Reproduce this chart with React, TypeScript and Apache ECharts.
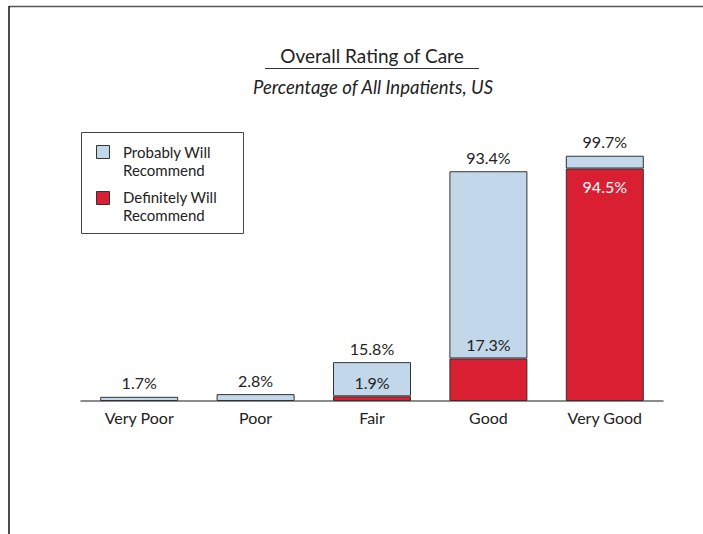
import React, { useEffect, useRef } from "react";
import * as echarts from "echarts";

const categories = ["Very Poor", "Poor", "Fair", "Good", "Very Good"];
const definitely = [0, 0, 1.9, 17.3, 94.5];
const probably = [1.7, 2.8, 13.9, 76.1, 5.2];
const totals = [1.7, 2.8, 15.8, 93.4, 99.7];
const seriesNames = ["Probably Will Recommend", "Definitely Will Recommend"];
const legendLines = [["Probably Will", "Recommend"], ["Definitely Will", "Recommend"]];
const titleText = "Overall Rating of Care";
const subtitleText = "Percentage of All Inpatients, US";

const BLUE = "#c2d8ea";
const RED = "#db1f33";
const FONT = "Lato, 'Open Sans', sans-serif";

export default function App() {
  const ref = useRef<HTMLDivElement>(null);
  useEffect(() => {
    if (!ref.current) return;
    const chart = echarts.init(ref.current, null, { renderer: "svg" });
    const redData = definitely.map((v, i) => {
      const item: any = { value: v };
      if (v === 0) {
        item.label = { show: false };
        item.itemStyle = { borderWidth: 0 };
      } else if (v > 50) {
        item.label = { show: true, position: "insideTop", distance: 10, color: "#ffffff" };
      }
      return item;
    });
    chart.setOption({
      animation: false,
      backgroundColor: "#ffffff",
      textStyle: { fontFamily: FONT },
      grid: { left: 81, width: 582, top: 155, height: 246 },
      xAxis: {
        type: "category",
        data: categories,
        axisLine: { show: true, lineStyle: { color: "#666", width: 1.5 } },
        axisTick: { show: false },
        axisLabel: { color: "#222", fontSize: 16, fontFamily: FONT, margin: 8 },
      },
      yAxis: {
        type: "value",
        min: 0,
        max: 100,
        show: false,
        splitLine: { show: false },
      },
      series: [
        {
          name: seriesNames[1],
          type: "bar",
          stack: "total",
          barWidth: 78,
          data: redData,
          itemStyle: { color: RED, borderColor: "#333", borderWidth: 1 },
          label: {
            show: true,
            position: "top",
            distance: 6,
            color: "#222",
            fontSize: 16,
            fontFamily: FONT,
            formatter: (p: any) => p.value.toFixed(1) + "%",
          },
        },
        {
          name: seriesNames[0],
          type: "bar",
          stack: "total",
          barWidth: 78,
          data: probably,
          itemStyle: { color: BLUE, borderColor: "#333", borderWidth: 1 },
          label: {
            show: true,
            position: "top",
            distance: 6,
            color: "#222",
            fontSize: 16,
            fontFamily: FONT,
            formatter: (p: any) => totals[p.dataIndex].toFixed(1) + "%",
          },
        },
      ],
      graphic: [
        { type: "line", shape: { x1: 9, y1: 6.5, x2: 703, y2: 6.5 }, style: { stroke: "#555", lineWidth: 1.5 } },
        { type: "line", shape: { x1: 9, y1: 6, x2: 9, y2: 534 }, style: { stroke: "#111", lineWidth: 1.5 } },
        {
          type: "text",
          x: 372,
          y: 55,
          style: { text: titleText, fontSize: 19, fontFamily: FONT, fill: "#222", align: "center", verticalAlign: "middle" },
        },
        { type: "line", shape: { x1: 265, y1: 68.5, x2: 479, y2: 68.5 }, style: { stroke: "#333", lineWidth: 1 } },
        {
          type: "text",
          x: 373,
          y: 87,
          style: {
            text: subtitleText,
            fontSize: 18.5,
            fontStyle: "italic",
            fontFamily: FONT,
            fill: "#222",
            align: "center",
            verticalAlign: "middle",
          },
        },
        {
          type: "rect",
          shape: { x: 81.5, y: 132.5, width: 162, height: 101 },
          style: { fill: "#fff", stroke: "#444", lineWidth: 1 },
        },
        {
          type: "rect",
          shape: { x: 96.5, y: 145.5, width: 13, height: 13 },
          style: { fill: BLUE, stroke: "#333", lineWidth: 1 },
        },
        {
          type: "text",
          x: 123,
          y: 161,
          style: {
            text: legendLines[0].join("\n"),
            fontSize: 15,
            lineHeight: 18,
            fontFamily: FONT,
            fill: "#222",
            verticalAlign: "middle",
          },
        },
        {
          type: "rect",
          shape: { x: 96.5, y: 191.5, width: 13, height: 13 },
          style: { fill: RED, stroke: "#333", lineWidth: 1 },
        },
        {
          type: "text",
          x: 123,
          y: 206,
          style: {
            text: legendLines[1].join("\n"),
            fontSize: 15,
            lineHeight: 18,
            fontFamily: FONT,
            fill: "#222",
            verticalAlign: "middle",
          },
        },
      ],
    });
    return () => chart.dispose();
  }, []);
  return (
    <div
      ref={ref}
      style={{ position: "fixed", left: 0, top: 0, width: 703, height: 534 }}
    />
  );
}
